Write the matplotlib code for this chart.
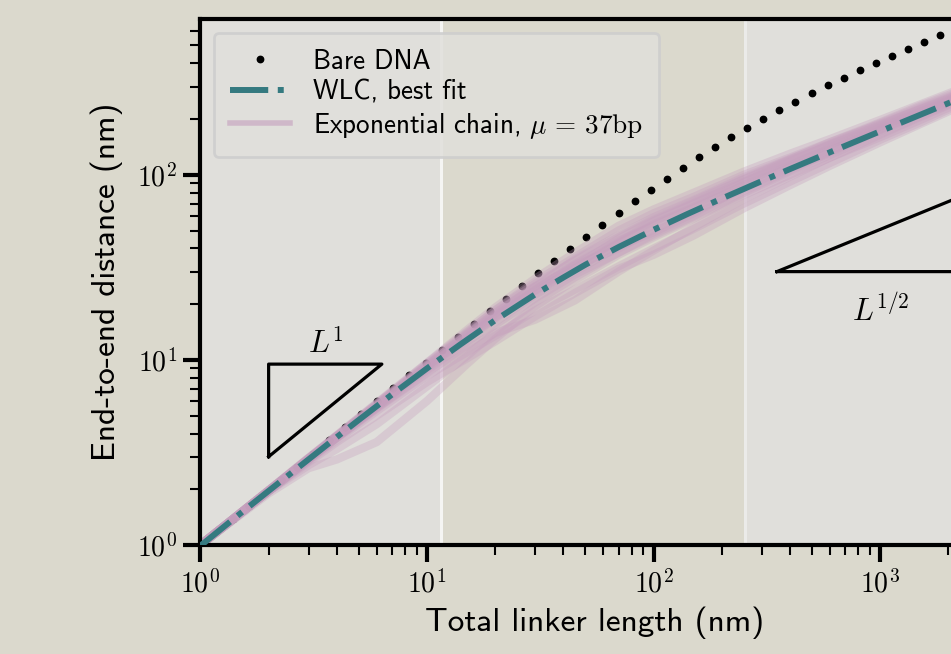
import matplotlib.pyplot as plt
from matplotlib.ticker import FuncFormatter, NullFormatter
import numpy as np

# ---- data ----
# bare DNA (black dots), log-spaced linker lengths
bare_L = [1.0, 1.177, 1.386, 1.632, 1.922, 2.263, 2.665, 3.138, 3.695, 4.351,
          5.123, 6.033, 7.104, 8.365, 9.85, 11.6, 13.66, 16.08, 18.94, 22.3,
          26.26, 30.92, 36.41, 42.87, 50.48, 59.44, 69.99, 82.42, 97.05, 114.3,
          134.6, 158.5, 186.6, 219.7, 258.7, 304.7, 358.8, 422.4, 497.4, 585.7,
          689.7, 812.2, 956.3, 1126, 1326, 1561, 1838, 2165, 2549, 3002]
bare_R = [0.998, 1.175, 1.383, 1.627, 1.915, 2.254, 2.652, 3.12, 3.671, 4.317,
          5.076, 5.968, 7.014, 8.239, 9.675, 11.37, 13.33, 15.63, 18.33, 21.46,
          25.09, 29.32, 34.21, 39.84, 46.34, 53.79, 62.29, 71.95, 82.87, 95.16,
          108.9, 124.1, 140.8, 159.2, 179.1, 200.8, 224.0, 248.9, 275.6, 304.1,
          334.7, 367.5, 402.6, 440.5, 481.3, 525.2, 572.6, 624.0, 679.4, 739.4]

# WLC best fit (teal dash-dot)
wlc_L = [1, 1.5, 2, 3, 4, 5, 7, 10, 14, 20, 30, 40, 50, 70, 100, 140, 200,
         300, 400, 500, 700, 1000, 1400, 2000, 3000]
wlc_R = [0.99, 1.48, 1.96, 2.90, 3.83, 4.74, 6.50, 9.0, 12.1, 16.4, 22.6, 27.9,
         32.7, 40.7, 50.5, 61.2, 74.5, 92.5, 107.5, 120.6, 143.4, 171.9, 203.8,
         244, 299]

# exponential chain realisations (pink band)
chain_L = [1, 2, 3, 4, 6, 10, 15, 20, 30, 45, 70, 100, 150, 250, 400, 600,
           1000, 1500, 2200, 3200]
chains = [
    [1, 1.97, 2.95, 3.9, 5.8, 9.6, 14.2, 18.5, 25.8, 34.5, 46, 58, 72, 95, 121, 150, 192, 236, 282, 340],
    [1, 1.9, 2.6, 2.9, 3.6, 6.0, 9.5, 13.0, 19.5, 27, 37, 46, 58, 78, 100, 124, 160, 198, 243, 296],
    [1, 1.96, 2.9, 3.8, 5.5, 8.8, 12.5, 16.0, 22.5, 30, 41, 49, 62, 86, 110, 130, 175, 214, 260, 312],
    [1, 1.97, 2.94, 3.88, 5.75, 9.5, 14.0, 18.6, 26.5, 36, 50, 62, 76, 100, 124, 150, 188, 226, 270, 322],
    [1, 1.95, 2.85, 3.7, 5.3, 8.2, 11.0, 13.5, 18.5, 24, 32, 40, 51, 70, 92, 116, 155, 192, 238, 290],
    [1, 1.96, 2.92, 3.85, 5.6, 9.1, 13.3, 17.2, 24.0, 33, 44, 53, 66, 88, 112, 140, 182, 220, 265, 318],
    [1, 1.96, 2.9, 3.8, 5.5, 8.6, 11.5, 14.0, 16.5, 21, 30, 39, 52, 74, 98, 124, 165, 205, 250, 300],
    [1, 1.97, 2.93, 3.86, 5.7, 9.3, 13.8, 18.0, 25.0, 31.5, 43, 56, 70, 92, 118, 146, 186, 228, 272, 325],
    [1, 1.96, 2.88, 3.78, 5.45, 8.5, 12.0, 15.5, 21.5, 29, 38, 47, 59, 80, 104, 128, 168, 208, 252, 304],
    [1, 1.97, 2.94, 3.9, 5.78, 9.4, 13.6, 17.5, 23.5, 31, 42.5, 54, 67, 91, 116, 137, 178, 218, 262, 316],
    [1, 1.95, 2.7, 3.3, 4.5, 7.2, 10.5, 14.2, 20.5, 28, 38, 48, 60, 82, 106, 133, 173, 212, 256, 306],
    [1, 1.96, 2.91, 3.84, 5.62, 9.2, 13.2, 17.0, 23.0, 32, 45, 57, 71, 94, 120, 144, 184, 224, 266, 320],
    [1, 1.98, 2.96, 3.92, 5.85, 9.65, 14.5, 19.2, 27.5, 38, 53, 65, 80, 104, 130, 156, 198, 240, 288, 345],
    [1, 1.95, 2.8, 3.6, 5.0, 7.6, 10.2, 12.6, 17.2, 23, 31, 37, 47, 66, 88, 112, 150, 188, 232, 285],
    [1, 1.96, 2.9, 3.82, 5.6, 9.0, 13.0, 16.8, 23.8, 32.5, 40, 51, 64, 84, 109, 134, 176, 216, 258, 310],
    [1, 1.97, 2.92, 3.86, 5.66, 9.3, 13.7, 17.8, 24.8, 35, 47, 59, 73, 97, 122, 147, 190, 232, 276, 330],
]

regime_edges = [11.5, 252]

# slope triangles
tri1_x = [2, 2, 6.32, 2]
tri1_y = [3, 9.49, 9.49, 3]
tri2_x = [350, 2860, 2860, 350]
tri2_y = [30, 30, 85.8, 30]

BG = '#dbd9cd'
GREY = '#e0dfdb'
TEAL = '#357a80'
PINK = '#c59fbd'

plt.rcParams['font.family'] = 'cmss10'
plt.rcParams['mathtext.fontset'] = 'cm'
plt.rcParams['axes.unicode_minus'] = False

fig = plt.figure(figsize=(9.51, 6.54), dpi=100, facecolor=BG)
ax = fig.add_axes([200.4 / 951, 109 / 654, 788 / 951, 526 / 654])
ax.set_xscale('log')
ax.set_yscale('log')
ax.set_xlim(1, 3000)
ax.set_ylim(1, 695)

# middle regime shows the page colour, outer regimes light grey
ax.set_facecolor(BG)
ax.axvspan(1, regime_edges[0], color=GREY, lw=0, zorder=0)
ax.axvspan(regime_edges[1], 3000, color=GREY, lw=0, zorder=0)
ax.axvline(regime_edges[0], color='#f5f5f3', lw=2.2, zorder=0.5)
ax.axvline(regime_edges[1], color='#ebebe9', lw=2.2, zorder=0.5)

ax.plot(bare_L, bare_R, 'o', ms=4.6, color='k', lw=0, zorder=1, label='Bare DNA')
for i, c in enumerate(chains):
    ax.plot(chain_L, c, color=PINK, alpha=0.33, lw=6, zorder=2,
            label=r'Exponential chain, $\mu \,=\, 37\mathrm{bp}$' if i == 0 else None)
ax.plot(wlc_L, wlc_R, '-.', color=TEAL, lw=4.3, zorder=3, label='WLC, best fit')

ax.plot(tri1_x, tri1_y, color='k', lw=2.3, zorder=4)
ax.plot(tri2_x, tri2_y, color='k', lw=2.3, zorder=4)
ax.text(3.56, 12.3, r'$L^1$', fontsize=22, ha='center', va='center')
ax.text(1000, 18.5, r'$L^{1/2}$', fontsize=22, ha='center', va='center')

for s in ax.spines.values():
    s.set_linewidth(3)
ax.tick_params(which='major', length=12, width=3, labelsize=20, pad=5)
ax.tick_params(which='minor', length=7, width=1.5)
fmt = FuncFormatter(lambda v, pos: r'$10^{%d}$' % round(np.log10(v)))
ax.xaxis.set_major_formatter(fmt)
ax.yaxis.set_major_formatter(fmt)
ax.xaxis.set_minor_formatter(NullFormatter())
ax.yaxis.set_minor_formatter(NullFormatter())

ax.set_xlabel('Total linker length (nm)', fontsize=24, labelpad=7)
ax.set_ylabel('End-to-end distance (nm)', fontsize=24, labelpad=10)

h, l = ax.get_legend_handles_labels()
order = [0, 2, 1]
leg = ax.legend([h[i] for i in order], [l[i] for i in order], loc='upper left',
                fontsize=19.5, handlelength=2.2, handletextpad=0.85,
                borderaxespad=0.5, borderpad=0.6, labelspacing=0.22,
                numpoints=1, fancybox=True,
                framealpha=0.85, facecolor=GREY, edgecolor='#cdcdcd')
leg.get_frame().set_linewidth(2)
leg.legend_handles[2].set_alpha(0.6)
leg.legend_handles[2].set_linewidth(4)

plt.savefig('out.png', dpi=100, facecolor=BG)
